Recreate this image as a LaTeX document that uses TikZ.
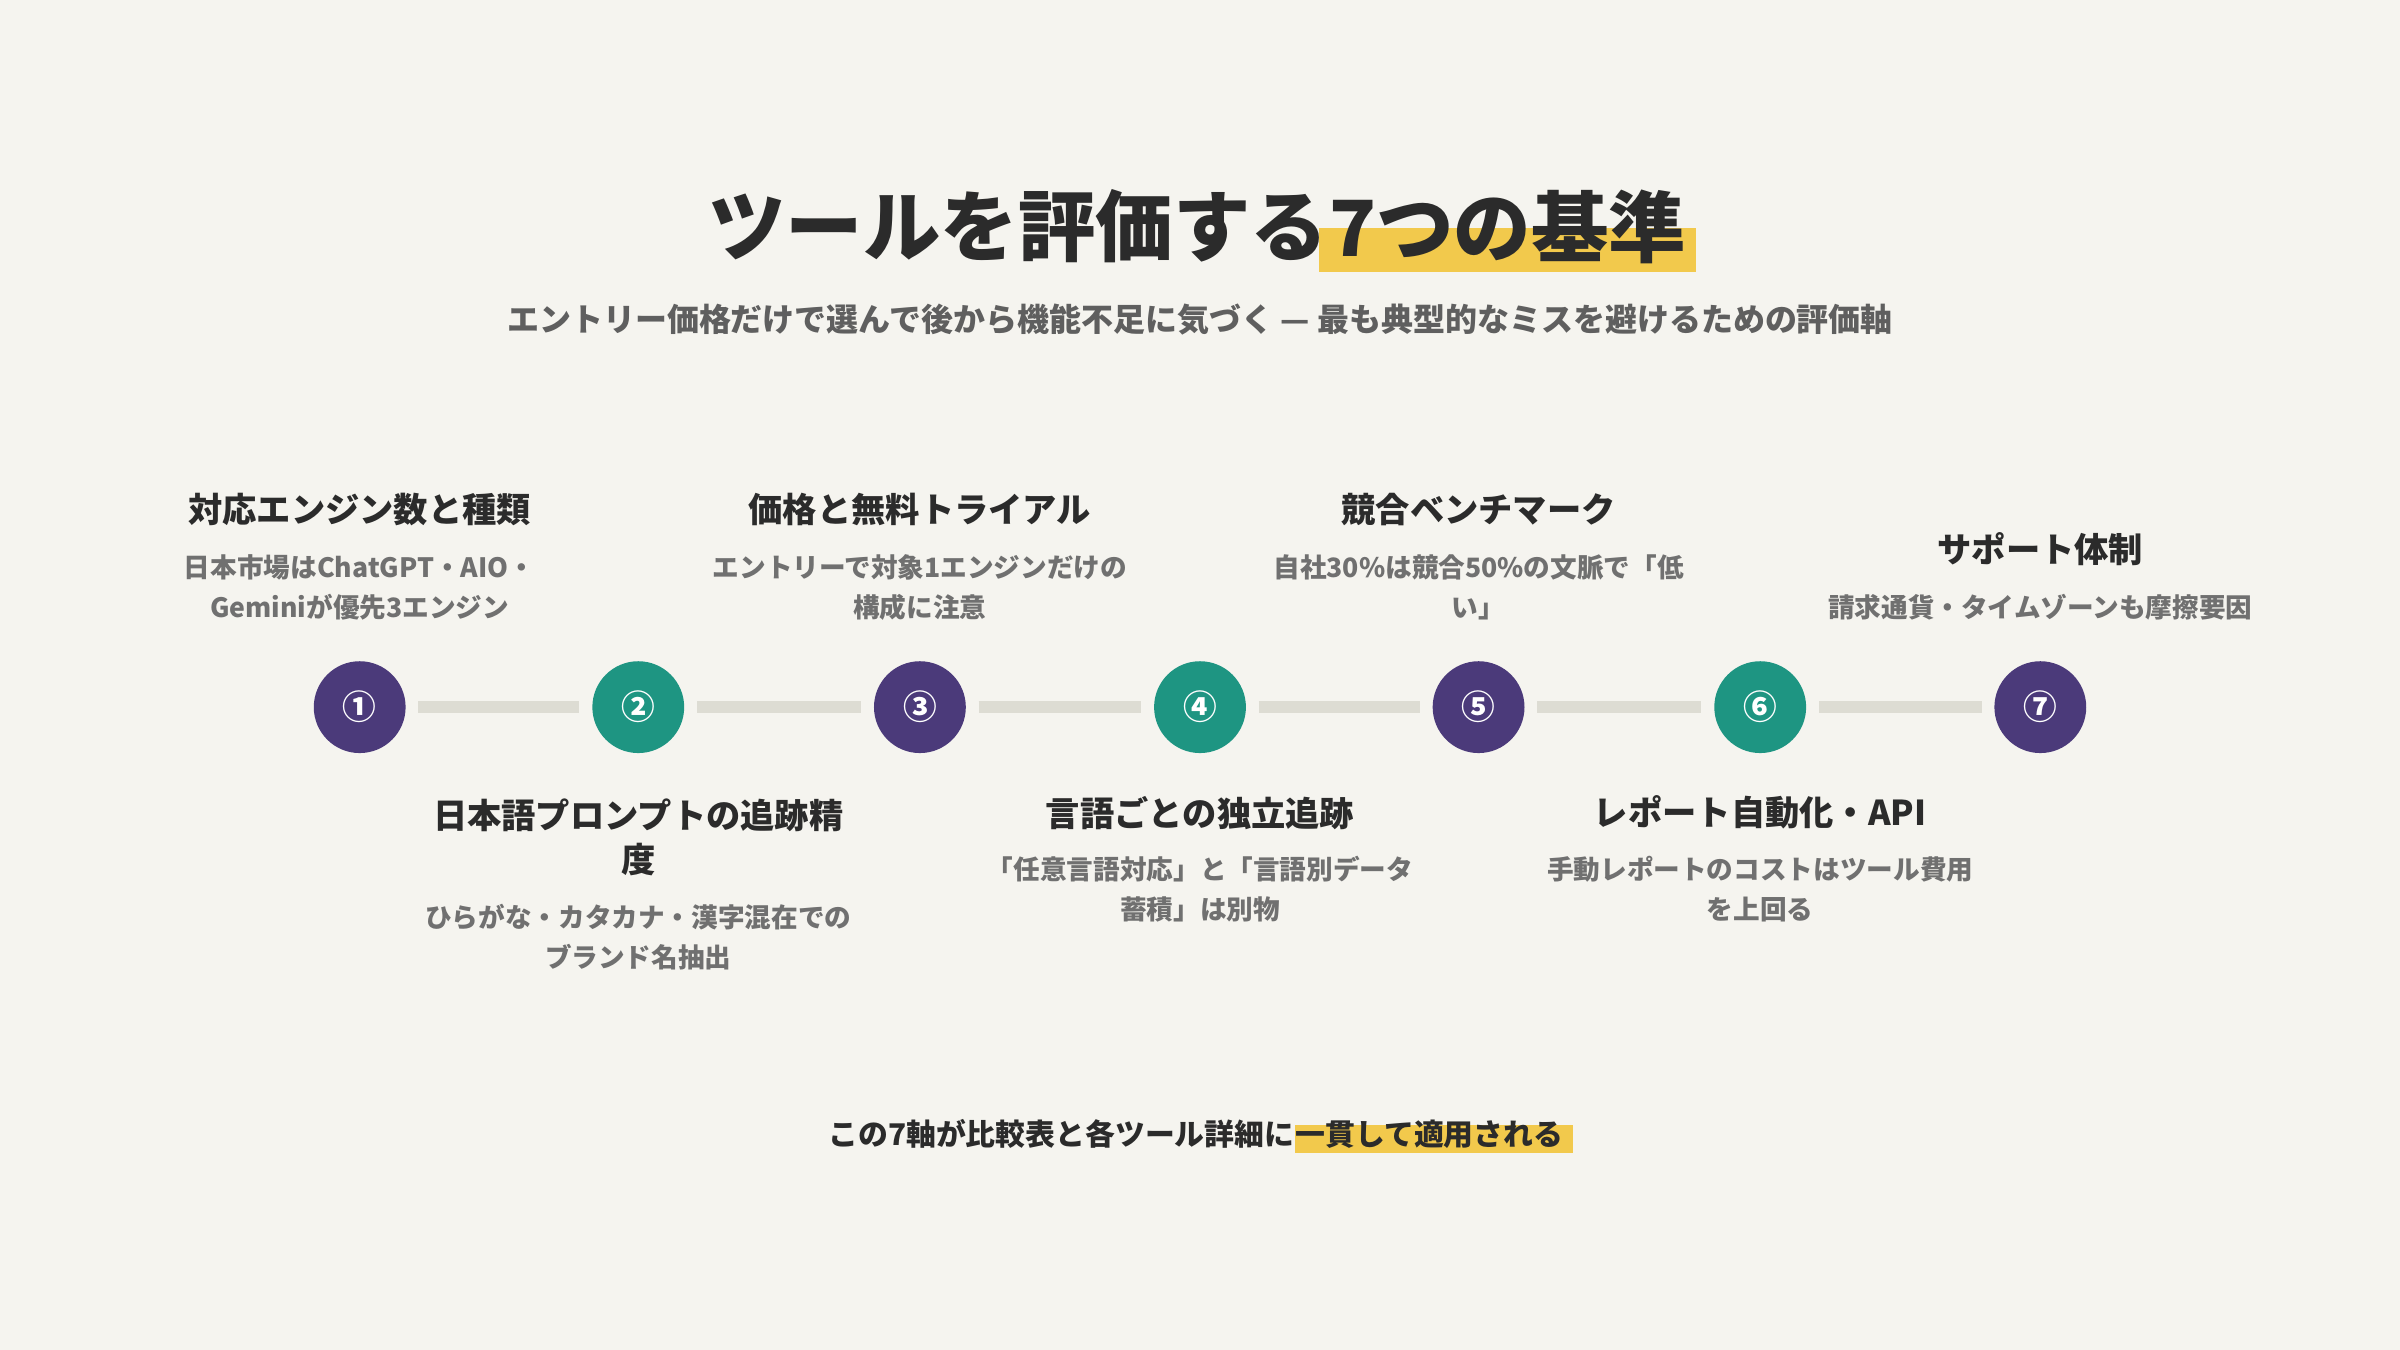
\documentclass[tikz,border=0pt]{standalone}
\usepackage{fontspec}
\setmainfont{Noto Sans CJK JP}
\usetikzlibrary{positioning}
\pgfdeclarelayer{background}
\pgfsetlayers{background,main}
\definecolor{bgpaper}{HTML}{F5F4EF}
\definecolor{inkdark}{HTML}{2B2B2B}
\definecolor{inkgray}{HTML}{707070}
\definecolor{stepviolet}{HTML}{4B3A7A}
\definecolor{stepteal}{HTML}{1E9582}
\definecolor{linkgray}{HTML}{DDDCD3}
\definecolor{marker}{HTML}{F2C94C}
\tikzset{
  stepdot/.style={circle, minimum size=30pt, inner sep=0pt, text=white, font=\bfseries\fontsize{11}{11}\selectfont},
  link/.style={draw=linkgray, line width=4pt, shorten <=4pt, shorten >=4pt},
  ttl/.style={font=\bfseries\fontsize{11.2}{14.5}\selectfont, text=inkdark, align=center, inner sep=0pt},
  dsc/.style={font=\bfseries\fontsize{8.7}{13}\selectfont, text=inkgray, align=center, inner sep=0pt},
}
\begin{document}
\begin{tikzpicture}[x=0.5pt, y=-0.5pt]
\useasboundingbox (0,0) rectangle (1568,882);

% heading
\node[anchor=east, inner sep=0pt, font=\bfseries\fontsize{25.3}{25}\selectfont, text=inkdark] (head1) at (868,148) {ツールを評価する};
\node[anchor=west, inner sep=0pt, font=\bfseries\fontsize{25.3}{25}\selectfont, text=inkdark] (head2) at (868,148) {7つの基準};
\node[font=\bfseries\fontsize{10.45}{10}\selectfont, text=inkgray!85!black, inner sep=0pt] (sub) at (784,209) {エントリー価格だけで選んで後から機能不足に気づく — 最も典型的なミスを避けるための評価軸};

% steps
\foreach \i/\x/\c/\g in {1/235/stepviolet/①, 2/417/stepteal/②, 3/601/stepviolet/③, 4/784/stepteal/④, 5/966/stepviolet/⑤, 6/1150/stepteal/⑥, 7/1333/stepviolet/⑦}
  \node[stepdot, fill=\c] (s\i) at (\x,462) {\g};
\foreach \a/\b in {1/2, 2/3, 3/4, 4/5, 5/6, 6/7}
  \draw[link] (s\a) -- (s\b);

% labels above
\node[ttl] (t1) at (235,333) {対応エンジン数と種類};
\node[dsc] (d1) at (235,384) {日本市場はChatGPT・AIO・\\Geminiが優先3エンジン};
\node[ttl] (t3) at (601,333) {価格と無料トライアル};
\node[dsc] (d3) at (601,384) {エントリーで対象1エンジンだけの\\構成に注意};
\node[ttl] (t5) at (966,333) {競合ベンチマーク};
\node[dsc] (d5) at (966,384) {自社30\%は競合50\%の文脈で「低\\い」};
\node[ttl] (t7) at (1333,359) {サポート体制};
\node[dsc] (d7) at (1333,397) {請求通貨・タイムゾーンも摩擦要因};

% labels below
\node[ttl] (t2) at (417,547) {日本語プロンプトの追跡精\\度};
\node[dsc] (d2) at (417,612) {ひらがな・カタカナ・漢字混在での\\ブランド名抽出};
\node[ttl] (t4) at (784,531) {言語ごとの独立追跡};
\node[dsc] (d4) at (784,581) {「任意言語対応」と「言語別データ\\蓄積」は別物};
\node[ttl] (t6) at (1150,531) {レポート自動化・API};
\node[dsc] (d6) at (1150,581) {手動レポートのコストはツール費用\\を上回る};

% closing line
\node[anchor=east, inner sep=0pt, font=\bfseries\fontsize{9.75}{9.5}\selectfont, text=inkdark] (foot1) at (846,741) {この7軸が比較表と各ツール詳細に};
\node[anchor=west, inner sep=0pt, font=\bfseries\fontsize{9.75}{9.5}\selectfont, text=inkdark] (foot2) at (846,741) {一貫して適用される};

\begin{pgfonlayer}{background}
  \fill[bgpaper] (0,0) rectangle (1568,882);
  \fill[marker] ([xshift=-3pt]head2.west|-0,149) rectangle ([xshift=3pt]head2.east|-0,178);
  \fill[marker] (foot2.west|-0,735) rectangle ([xshift=3pt]foot2.east|-0,753);
\end{pgfonlayer}
\end{tikzpicture}
\end{document}
